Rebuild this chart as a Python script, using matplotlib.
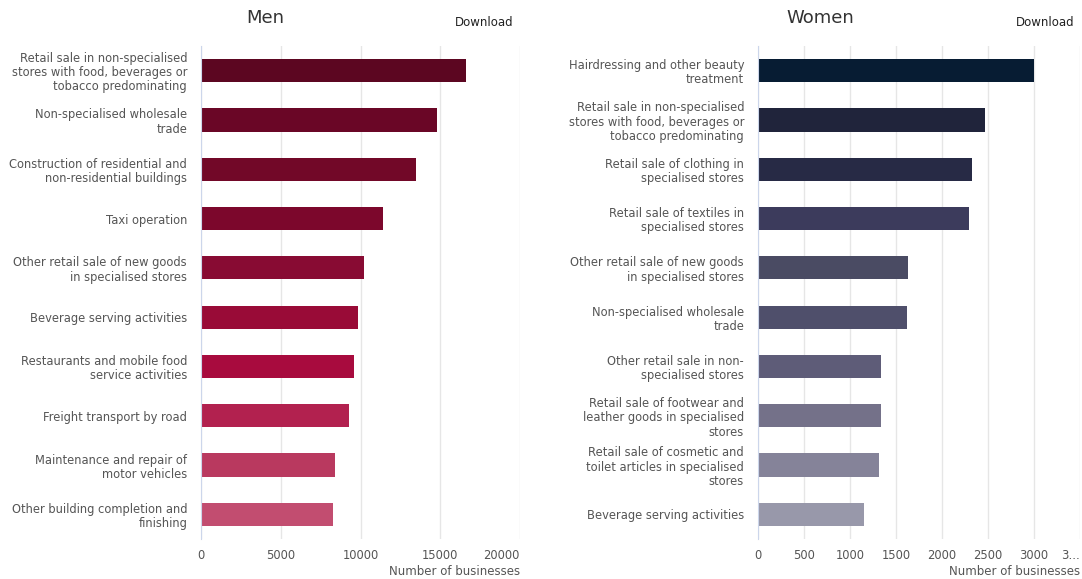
import matplotlib
matplotlib.use("Agg")
import matplotlib.pyplot as plt

# men - top 10 activities
men_labels = [
    "Retail sale in non-specialised\nstores with food, beverages or\ntobacco predominating",
    "Non-specialised wholesale\ntrade",
    "Construction of residential and\nnon-residential buildings",
    "Taxi operation",
    "Other retail sale of new goods\nin specialised stores",
    "Beverage serving activities",
    "Restaurants and mobile food\nservice activities",
    "Freight transport by road",
    "Maintenance and repair of\nmotor vehicles",
    "Other building completion and\nfinishing",
]
men_values = [16600, 14800, 13450, 11400, 10250, 9830, 9570, 9310, 8400, 8270]
men_colors = ["#5c0621", "#6a0626", "#720828", "#7c072c", "#880b33",
              "#990b37", "#a80b3e", "#b2214f", "#b9395f", "#c24d70"]
men_ticks = [0, 5000, 10000, 15000, 20000]
men_ticklabels = ["0", "5000", "10000", "15000", "20000"]

# women - top 10 activities
women_labels = [
    "Hairdressing and other beauty\ntreatment",
    "Retail sale in non-specialised\nstores with food, beverages or\ntobacco predominating",
    "Retail sale of clothing in\nspecialised stores",
    "Retail sale of textiles in\nspecialised stores",
    "Other retail sale of new goods\nin specialised stores",
    "Non-specialised wholesale\ntrade",
    "Other retail sale in non-\nspecialised stores",
    "Retail sale of footwear and\nleather goods in specialised\nstores",
    "Retail sale of cosmetic and\ntoilet articles in specialised\nstores",
    "Beverage serving activities",
]
women_values = [3000, 2470, 2330, 2290, 1625, 1615, 1340, 1338, 1315, 1155]
women_colors = ["#071c33", "#20243b", "#272a45", "#3c3b5c", "#4a4b63",
                "#4f4f6b", "#5e5c78", "#747189", "#858399", "#9898aa"]
women_ticks = [0, 500, 1000, 1500, 2000, 2500, 3000, 3500]
women_ticklabels = ["0", "500", "1000", "1500", "2000", "2500", "3000", "3\u2026"]

plt.rcParams['font.family'] = ['DejaVu Sans']

fig = plt.figure(figsize=(10.82, 5.79), dpi=100)


def draw_panel(rect, labels, values, colors, ticks, ticklabels, title, title_x, dl_x):
    ax = fig.add_axes(rect)
    y = list(range(len(values)))
    ax.barh(y, values, height=0.47, color=colors, zorder=3)
    ax.set_ylim(len(values) - 0.5, -0.5)
    ax.set_xlim(ticks[0], ticks[-1])
    ax.set_yticks(y)
    ax.set_yticklabels(labels, fontsize=8.3, color="#555555", linespacing=1.12)
    ax.set_xticks(ticks)
    ax.set_xticklabels(ticklabels, fontsize=8.3, color="#555555")
    ax.get_xticklabels()[-1].set_ha("right")
    ax.tick_params(axis="both", length=0)
    ax.tick_params(axis="y", pad=10)
    ax.tick_params(axis="x", pad=7)
    ax.grid(axis="x", color="#e6e6e6", linewidth=1, zorder=0)
    for s in ["top", "right", "bottom"]:
        ax.spines[s].set_visible(False)
    ax.spines["left"].set_color("#ccd6eb")
    ax.spines["left"].set_zorder(4)
    ax.set_xlabel("Number of businesses", fontsize=8.5, color="#555555", loc="right", labelpad=2.5)
    fig.text(title_x, 1 - 18 / 579, title, fontsize=13, color="#333333", ha="center", va="center")
    fig.text(dl_x, 1 - 23 / 579, "Download", fontsize=8.5, color="#222222", ha="center", va="center")
    return ax


draw_panel([201 / 1082, 1 - 539 / 579, 319 / 1082, 493 / 579],
           men_labels, men_values, men_colors, men_ticks, men_ticklabels,
           "Men", 265 / 1082, 484 / 1082)
draw_panel([758 / 1082, 1 - 539 / 579, 322 / 1082, 493 / 579],
           women_labels, women_values, women_colors, women_ticks, women_ticklabels,
           "Women", 820 / 1082, 1045 / 1082)

fig.savefig("out.png", dpi=100)
plt.close(fig)
